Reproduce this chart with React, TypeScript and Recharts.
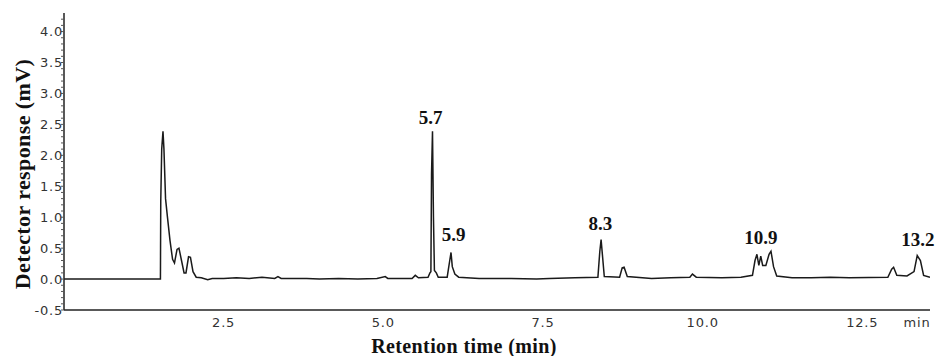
import React from 'react';
import { LineChart, Line, XAxis, YAxis, Label, ReferenceDot } from 'recharts';

// chromatogram trace
const retentionTimes = [
  0, 1.51, 1.515, 1.53, 1.55, 1.565, 1.59, 1.62, 1.66, 1.7, 1.73, 1.77, 1.8, 1.84, 1.88, 1.91,
  1.95, 1.98, 2.02, 2.07, 2.15, 2.25, 2.32, 2.5, 2.7, 2.9, 3.1, 3.3, 3.35, 3.4, 3.8, 4.0, 4.3,
  4.6, 4.9, 5.03, 5.07, 5.45, 5.5, 5.55, 5.7, 5.73, 5.745, 5.755, 5.77, 5.785, 5.8, 5.83, 5.86,
  6.0, 6.04, 6.06, 6.08, 6.12, 6.18, 6.5, 7.0, 7.4, 7.6, 8.0, 8.36, 8.39, 8.41, 8.43, 8.46, 8.7,
  8.74, 8.77, 8.82, 9.2, 9.5, 9.8, 9.84, 9.9, 10.3, 10.6, 10.78, 10.82, 10.85, 10.88, 10.91,
  10.94, 10.99, 11.04, 11.07, 11.11, 11.16, 11.4, 11.7, 12.0, 12.3, 12.9, 12.96, 12.99, 13.04,
  13.2, 13.31, 13.36, 13.41, 13.46, 13.56,
];
const responses = [
  0, 0, 1.25, 2.1, 2.39, 2.1, 1.3, 1.0, 0.62, 0.32, 0.26, 0.48, 0.5, 0.3, 0.1, 0.1,
  0.36, 0.35, 0.12, 0.03, 0.02, -0.01, 0.01, 0.01, 0.02, 0.01, 0.03, 0.01, 0.04, 0.01, 0.01, 0.0, 0.01,
  0.0, 0.01, 0.04, 0.01, 0.01, 0.06, 0.02, 0.03, 0.1, 0.12, 1.7, 2.39, 1.0, 0.14, 0.1, 0.03,
  0.03, 0.3, 0.43, 0.2, 0.08, 0.03, 0.01, 0.01, 0.0, 0.01, 0.02, 0.03, 0.45, 0.64, 0.4, 0.04, 0.03,
  0.18, 0.19, 0.04, 0.01, 0.02, 0.03, 0.08, 0.03, 0.02, 0.03, 0.06, 0.3, 0.4, 0.22, 0.37,
  0.22, 0.22, 0.4, 0.45, 0.2, 0.05, 0.02, 0.02, 0.03, 0.02, 0.03, 0.16, 0.19, 0.06,
  0.05, 0.12, 0.38, 0.3, 0.06, 0.03,
];

// peak annotations
const peakNames = ['5.7', '5.9', '8.3', '10.9', '13.2'];
const peakLabelTimes = [5.74, 6.1, 8.4, 10.91, 13.37];
const peakLabelLevels = [2.62, 0.72, 0.91, 0.67, 0.64];

const xTicks = [2.5, 5.0, 7.5, 10.0, 12.5];
const yMajorTicks = [-0.5, 0, 0.5, 1, 1.5, 2, 2.5, 3, 3.5, 4];
const yTicks = [
  -0.5, -0.4, -0.3, -0.2, -0.1, 0, 0.1, 0.2, 0.3, 0.4, 0.5, 0.6, 0.7, 0.8, 0.9, 1.0, 1.1, 1.2,
  1.3, 1.4, 1.5, 1.6, 1.7, 1.8, 1.9, 2.0, 2.1, 2.2, 2.3, 2.4, 2.5, 2.6, 2.7, 2.8, 2.9, 3.0, 3.1,
  3.2, 3.3, 3.4, 3.5, 3.6, 3.7, 3.8, 3.9, 4.0, 4.1, 4.2,
];

const data = retentionTimes.map((t, i) => ({ t, v: responses[i] }));

const tickFont = { fontFamily: 'DejaVu Sans', fontSize: 13, fill: '#333', letterSpacing: 0.8 };
const serifBold = { fontFamily: 'Liberation Serif', fontWeight: 700, fill: '#111' };

const YTick = (props: any) => {
  const { x, y, payload } = props;
  const v = payload.value;
  const major = yMajorTicks.some((m) => Math.abs(m - v) < 1e-6);
  return (
    <g>
      <line x1={x - 3} x2={x} y1={y} y2={y} stroke="#555" strokeWidth={1} />
      {major && (
        <text x={x - 1} y={y} textAnchor="end" dominantBaseline="central" {...tickFont}>
          {v.toFixed(1)}
        </text>
      )}
    </g>
  );
};

const XTick = (props: any) => {
  const { x, y, payload } = props;
  return (
    <text x={x} y={y + 12} textAnchor="middle" dominantBaseline="central" {...tickFont}>
      {payload.value.toFixed(1)}
    </text>
  );
};

export default function App() {
  return (
    <div style={{ position: 'absolute', left: 0, top: 0, width: 937, height: 356, background: '#fff' }}>
      <LineChart width={937} height={356} data={data} margin={{ top: 13, right: 7, left: 0, bottom: 0 }}>
        <XAxis
          dataKey="t"
          type="number"
          domain={[0, 13.56]}
          ticks={xTicks}
          tick={<XTick />}
          tickLine={false}
          tickSize={0}
          tickMargin={0}
          height={46}
          axisLine={{ stroke: '#222', strokeWidth: 1.5 }}
          allowDataOverflow
        >
          <Label
            content={() => (
              <g>
                <text x={917} y={322} textAnchor="middle" dominantBaseline="central" {...tickFont}>
                  min
                </text>
                <text
                  x={464}
                  y={346}
                  textAnchor="middle"
                  dominantBaseline="central"
                  fontSize={20}
                  letterSpacing={0.4}
                  {...serifBold}
                >
                  Retention time (min)
                </text>
              </g>
            )}
          />
        </XAxis>
        <YAxis
          type="number"
          domain={[-0.5, 4.3]}
          ticks={yTicks}
          tick={<YTick />}
          tickLine={false}
          tickSize={0}
          tickMargin={0}
          width={64}
          interval={0}
          axisLine={{ stroke: '#222', strokeWidth: 1.5 }}
          allowDataOverflow
        >
          <Label
            content={() => (
              <text
                x={22}
                y={174}
                transform="rotate(-90 22 174)"
                textAnchor="middle"
                dominantBaseline="central"
                fontSize={22}
                letterSpacing={0.4}
                {...serifBold}
              >
                Detector response (mV)
              </text>
            )}
          />
        </YAxis>
        <Line
          type="linear"
          dataKey="v"
          stroke="#1a1a1a"
          strokeWidth={1.5}
          dot={false}
          isAnimationActive={false}
        />
        {peakNames.map((name, i) => (
          <ReferenceDot
            key={name}
            x={peakLabelTimes[i]}
            y={peakLabelLevels[i]}
            r={0}
            fill="none"
            stroke="none"
            label={{ value: name, position: 'center', fontSize: 19, ...serifBold }}
          />
        ))}
      </LineChart>
    </div>
  );
}
